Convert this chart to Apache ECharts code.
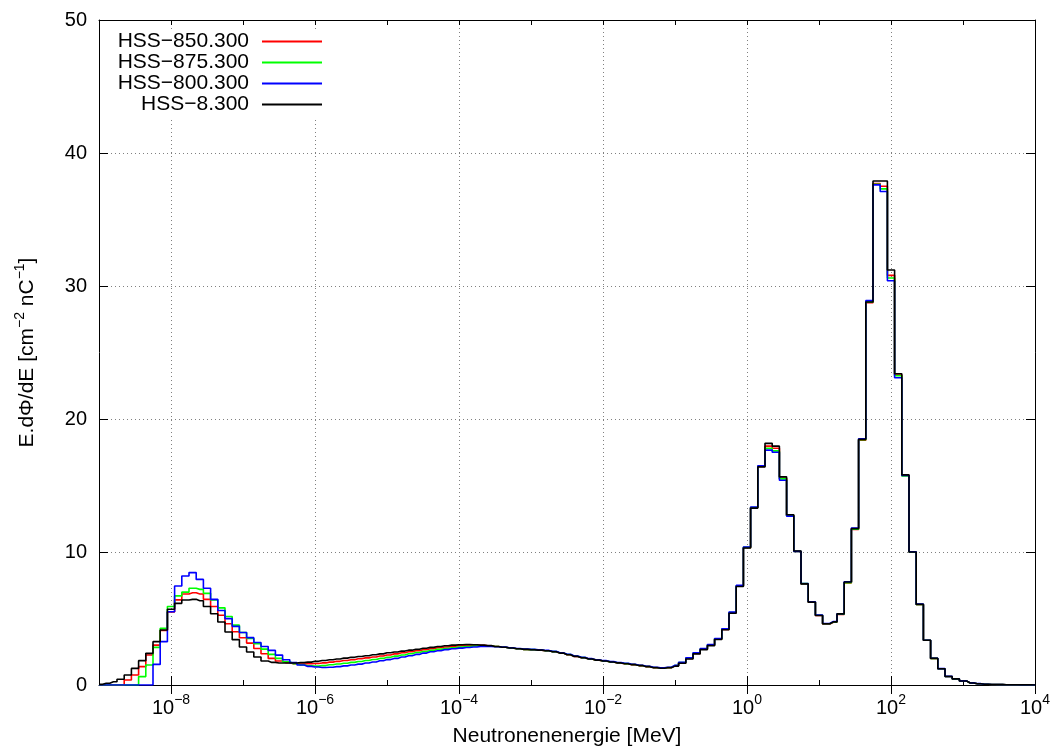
<!DOCTYPE html>
<html><head><meta charset="utf-8">
<script src="https://cdn.jsdelivr.net/npm/echarts@6/dist/echarts.min.js"></script>
<style>html,body{margin:0;padding:0;background:#fff}#c{width:1054px;height:749px}</style>
</head><body><div id="c"></div>
<script>
const FONT = '"Liberation Sans", Arial, Helvetica, sans-serif';
const seriesNames = ['HSS\u2212850.300', 'HSS\u2212875.300', 'HSS\u2212800.300', 'HSS\u22128.300'];
const seriesColors = ['#ff0000', '#00ff00', '#0000ff', '#000000'];
// bin centres: log10(E/MeV), 10 bins per decade from 1e-9 to 1e4
const binExponents = [];
for (let k = 0; k <= 130; k++) binExponents.push(Math.round((-9 + k * 0.1) * 10) / 10);
const xMajorTicks = [-8, -6, -4, -2, 0, 2, 4];

const hss850 = [
 0, 0, 0, 0, 0.38, 0.75, 1.38, 2.26, 3.0, 4.1,
 5.5, 6.4, 6.84, 6.94, 6.84, 6.44, 5.9, 5.25, 4.6, 4.0,
 3.55, 3.15, 2.75, 2.35, 2.0, 1.8, 1.68, 1.6, 1.58, 1.6,
 1.62, 1.66, 1.72, 1.78, 1.84, 1.9, 1.97, 2.04, 2.11, 2.18,
 2.26, 2.34, 2.42, 2.5, 2.58, 2.65, 2.72, 2.8, 2.86, 2.92,
 2.96, 2.99, 3.0, 2.98, 2.95, 2.9, 2.84, 2.78, 2.72, 2.68,
 2.65, 2.62, 2.57, 2.5, 2.4, 2.28, 2.15, 2.05, 1.95, 1.87,
 1.8, 1.73, 1.66, 1.6, 1.53, 1.46, 1.38, 1.31, 1.27, 1.31,
 1.44, 1.66, 1.99, 2.37, 2.69, 2.99, 3.45, 4.18, 5.43, 7.44,
 10.33, 13.33, 16.43, 17.96, 17.8, 15.55, 12.75, 10.05, 7.6, 6.22,
 5.22, 4.58, 4.72, 5.3, 7.68, 11.7, 18.4, 28.75, 37.7, 37.5,
 30.8, 23.3, 15.75, 10.0, 6.06, 3.36, 2.0, 1.22, 0.64, 0.46,
 0.3, 0.15, 0.09, 0.06, 0.04, 0.03, 0.02, 0.015, 0.01, 0.008, 0.005
];
const hss875 = [
 0, 0, 0, 0, 0, 0, 0.63, 1.5, 2.83, 4.26,
 5.9, 6.7, 6.98, 7.27, 7.19, 6.89, 6.4, 5.8, 5.15, 4.5,
 3.95, 3.5, 3.1, 2.7, 2.3, 2.0, 1.75, 1.6, 1.5, 1.45,
 1.42, 1.46, 1.52, 1.58, 1.64, 1.7, 1.77, 1.84, 1.92, 2.0,
 2.08, 2.17, 2.26, 2.35, 2.44, 2.52, 2.6, 2.68, 2.75, 2.8,
 2.85, 2.9, 2.93, 2.94, 2.93, 2.89, 2.84, 2.78, 2.72, 2.68,
 2.66, 2.63, 2.58, 2.51, 2.41, 2.29, 2.16, 2.06, 1.96, 1.88,
 1.81, 1.74, 1.67, 1.61, 1.54, 1.47, 1.39, 1.32, 1.28, 1.32,
 1.46, 1.68, 2.01, 2.39, 2.71, 3.01, 3.47, 4.2, 5.45, 7.46,
 10.35, 13.35, 16.45, 17.8, 17.6, 15.5, 12.72, 10.05, 7.62, 6.24,
 5.24, 4.6, 4.74, 5.32, 7.7, 11.72, 18.44, 28.8, 37.65, 37.3,
 30.6, 23.25, 15.72, 10.0, 6.06, 3.36, 2.0, 1.22, 0.64, 0.46,
 0.3, 0.15, 0.09, 0.06, 0.04, 0.03, 0.02, 0.015, 0.01, 0.008, 0.005
];
const hss800 = [
 0, 0, 0, 0, 0, 0, 0, 0, 1.55, 3.26,
 5.51, 7.44, 8.2, 8.45, 7.94, 7.27, 6.44, 5.6, 4.99, 4.41,
 3.95, 3.56, 3.2, 2.9, 2.6, 2.25, 1.9, 1.68, 1.5, 1.4,
 1.35, 1.32, 1.33, 1.38, 1.44, 1.5, 1.57, 1.65, 1.73, 1.82,
 1.91, 2.0, 2.1, 2.2, 2.3, 2.4, 2.5, 2.58, 2.66, 2.72,
 2.77, 2.82, 2.86, 2.89, 2.9, 2.88, 2.85, 2.8, 2.75, 2.71,
 2.68, 2.65, 2.6, 2.53, 2.43, 2.31, 2.18, 2.08, 1.98, 1.9,
 1.83, 1.76, 1.69, 1.63, 1.56, 1.49, 1.41, 1.34, 1.3, 1.34,
 1.48, 1.71, 2.04, 2.42, 2.74, 3.04, 3.5, 4.23, 5.48, 7.49,
 10.38, 13.38, 16.48, 17.66, 17.5, 15.4, 12.7, 10.05, 7.63, 6.26,
 5.26, 4.62, 4.77, 5.36, 7.76, 11.8, 18.52, 28.9, 37.6, 37.1,
 30.4, 23.1, 15.75, 10.02, 6.08, 3.37, 2.01, 1.23, 0.65, 0.47,
 0.31, 0.16, 0.1, 0.06, 0.04, 0.03, 0.02, 0.015, 0.01, 0.008, 0.005
];
const hss8 = [
 0.05, 0.13, 0.25, 0.43, 0.75, 1.25, 1.83, 2.38, 3.26, 4.14,
 5.69, 6.14, 6.39, 6.44, 6.34, 5.9, 5.36, 4.74, 3.98, 3.41,
 2.86, 2.48, 2.1, 1.8, 1.7, 1.65, 1.65, 1.65, 1.68, 1.72,
 1.78, 1.84, 1.9, 1.96, 2.02, 2.08, 2.14, 2.2, 2.27, 2.34,
 2.42, 2.48, 2.55, 2.62, 2.69, 2.76, 2.83, 2.89, 2.95, 3.0,
 3.03, 3.04, 3.03, 3.0, 2.96, 2.9, 2.84, 2.78, 2.72, 2.68,
 2.65, 2.62, 2.57, 2.5, 2.4, 2.28, 2.15, 2.05, 1.95, 1.87,
 1.8, 1.73, 1.66, 1.6, 1.53, 1.46, 1.38, 1.3, 1.26, 1.3,
 1.42, 1.63, 1.96, 2.34, 2.66, 2.96, 3.42, 4.15, 5.4, 7.41,
 10.3, 13.3, 16.4, 18.17, 17.96, 15.65, 12.8, 10.08, 7.6, 6.23,
 5.23, 4.6, 4.75, 5.35, 7.74, 11.76, 18.47, 28.8, 37.9, 37.9,
 31.2, 23.4, 15.8, 10.0, 6.06, 3.36, 2.0, 1.22, 0.64, 0.46,
 0.3, 0.15, 0.09, 0.06, 0.04, 0.03, 0.02, 0.015, 0.01, 0.008, 0.005
];
const seriesValues = [hss850, hss875, hss800, hss8];

const chart = echarts.init(document.getElementById('c'), null, {renderer: 'canvas'});
const black = '#000';
const gridDash = [1, 3];
function expLabel(v) {
  const n = Math.round(v);
  if (Math.abs(v - n) > 1e-6 || n % 2 !== 0) return '';
  const e = n < 0 ? '\u2212' + (-n) : String(n);
  return '{b|10}{s|' + e + '}';
}
const supRich = {
  b: {fontSize: 20, fontFamily: FONT, color: black, lineHeight: 30},
  s: {fontSize: 14, fontFamily: FONT, color: black, lineHeight: 16, verticalAlign: 'top'}
};
const baseX = {type: 'value', min: -9, max: 4, interval: 1, gridIndex: 0};
chart.setOption({
  animation: false,
  backgroundColor: '#fff',
  grid: {left: 99, right: 19, top: 20, bottom: 64, containLabel: false, outerBoundsMode: 'none'},
  legend: {
    orient: 'vertical', align: 'right', right: 724, top: 30,
    padding: [1, 8, 3, 12], itemWidth: 60, itemHeight: 2, itemGap: 0,
    icon: 'rect', backgroundColor: '#fff', selectedMode: false, z: 10,
    textStyle: {fontSize: 21, fontFamily: FONT, color: black, lineHeight: 21, padding: [0, 8, 0, 0]},
    data: seriesNames
  },
  xAxis: [
    Object.assign({}, baseX, {
      position: 'bottom',
      axisLine: {show: true, onZero: false, lineStyle: {color: black, width: 1}},
      axisTick: {show: true, inside: true, length: 5, lineStyle: {color: black, width: 1}},
      axisLabel: {show: true, margin: 8, formatter: expLabel, rich: supRich, color: black},
      splitLine: {show: true, lineStyle: {color: ['rgba(0,0,0,0)', '#808080'], width: 1, type: gridDash}},
      name: 'Neutronenenergie [MeV]', nameLocation: 'middle', nameGap: 41,
      nameTextStyle: {fontSize: 21, fontFamily: FONT, color: black}
    }),
    Object.assign({}, baseX, {
      position: 'bottom',
      axisLine: {show: false},
      axisTick: {show: true, inside: true, length: 9, customValues: xMajorTicks, lineStyle: {color: black, width: 1}},
      axisLabel: {show: false}, splitLine: {show: false}
    }),
    Object.assign({}, baseX, {
      position: 'top',
      axisLine: {show: true, onZero: false, lineStyle: {color: black, width: 1}},
      axisTick: {show: true, inside: true, length: 5, lineStyle: {color: black, width: 1}},
      axisLabel: {show: false}, splitLine: {show: false}
    }),
    Object.assign({}, baseX, {
      position: 'top',
      axisLine: {show: false},
      axisTick: {show: true, inside: true, length: 9, customValues: xMajorTicks, lineStyle: {color: black, width: 1}},
      axisLabel: {show: false}, splitLine: {show: false}
    })
  ],
  yAxis: [
    {
      type: 'value', min: 0, max: 50, interval: 10, position: 'left',
      axisLine: {show: true, onZero: false, lineStyle: {color: black, width: 1}},
      axisTick: {show: true, inside: true, length: 9, lineStyle: {color: black, width: 1}},
      axisLabel: {show: true, margin: 12, fontSize: 20, fontFamily: FONT, color: black},
      splitLine: {show: true, showMinLine: false, showMaxLine: false, lineStyle: {color: '#808080', width: 1, type: gridDash}},
      name: '{b|E.d\u03A6/dE [cm}{s|\u22122}{b| nC}{s|\u22121}{b|]}',
      nameLocation: 'middle', nameGap: 58, nameRotate: 90,
      nameTextStyle: {rich: {
        b: {fontSize: 21, fontFamily: FONT, color: black, lineHeight: 28},
        s: {fontSize: 14, fontFamily: FONT, color: black, lineHeight: 16, verticalAlign: 'top'}
      }}
    },
    {
      type: 'value', min: 0, max: 50, interval: 10, position: 'right',
      axisLine: {show: true, onZero: false, lineStyle: {color: black, width: 1}},
      axisTick: {show: true, inside: true, length: 9, lineStyle: {color: black, width: 1}},
      axisLabel: {show: false}, splitLine: {show: false}
    }
  ],
  series: seriesNames.map((name, i) => ({
    name: name, type: 'line', step: 'middle', xAxisIndex: 0, yAxisIndex: 0,
    showSymbol: false, symbol: 'none', clip: true, z: 2 + i,
    lineStyle: {color: seriesColors[i], width: 1.6},
    itemStyle: {color: seriesColors[i]},
    data: binExponents.map((x, k) => [x, seriesValues[i][k]])
  }))
});
</script>
</body></html>
